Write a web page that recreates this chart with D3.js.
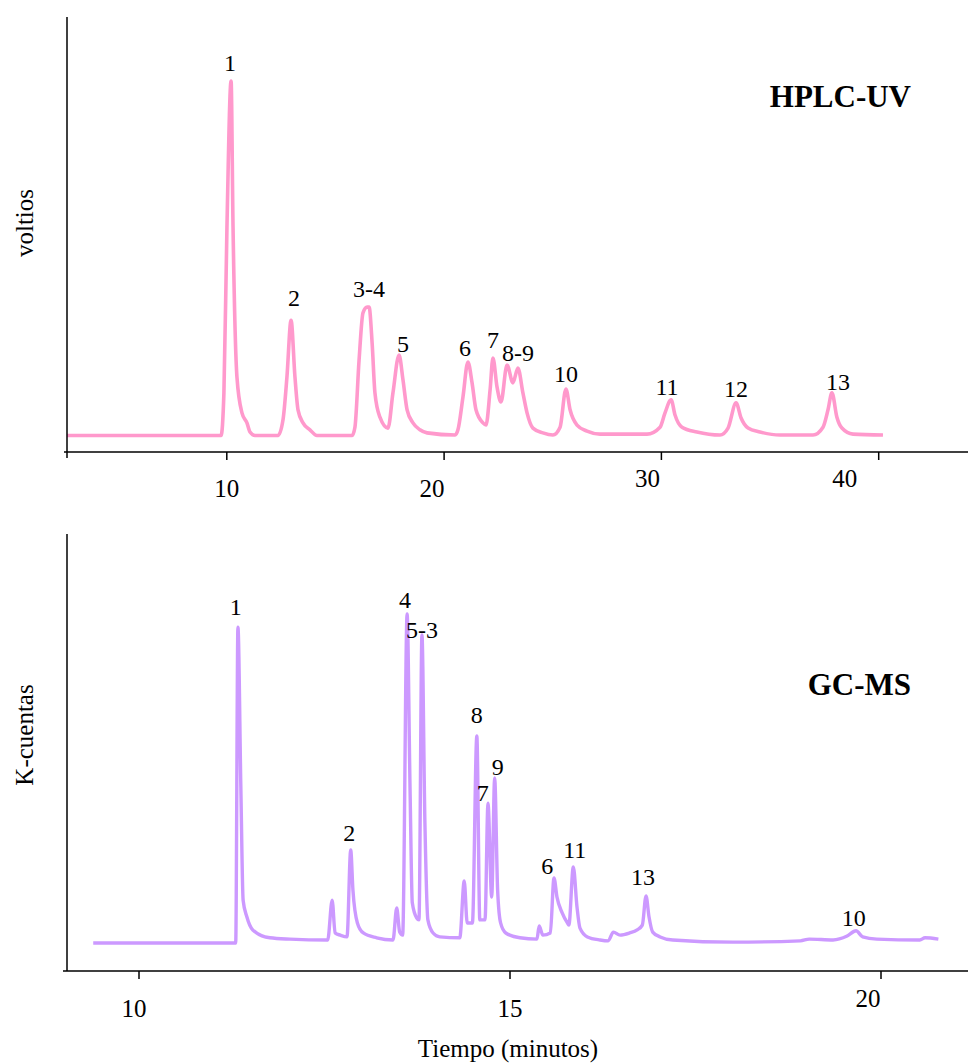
<!DOCTYPE html>
<html>
<head>
<meta charset="utf-8">
<script src="https://cdn.jsdelivr.net/npm/d3@7"></script>
<style>
  body { margin: 0; background: #fff; }
  svg { display: block; }
  text { font-family: "Liberation Serif", "Times New Roman", serif; fill: #000; }
</style>
</head>
<body>
<script>
// ---- 数据：HPLC-UV 色谱 (时间 min, 信号) ----
var hplcTime = [2.67, 9.76, 9.89, 10.03, 10.22, 10.31, 10.49, 10.72, 10.95, 11.09, 11.32,
  12.38, 12.61, 12.79, 12.98, 13.16, 13.30, 13.53, 13.85, 14.17,
  15.79, 15.92, 16.11, 16.29, 16.48, 16.57, 16.71, 16.84, 17.07, 17.44,
  17.67, 17.95, 18.13, 18.32, 18.59, 18.91, 19.24,
  20.53, 20.66, 20.89, 21.12, 21.31, 21.49, 21.81, 21.95,
  22.14, 22.27, 22.46, 22.64, 22.92, 23.19, 23.42, 23.65, 23.84, 24.11, 24.57, 25.03,
  25.36, 25.63, 25.82, 26.14, 26.60, 27.20,
  29.36, 29.96, 30.19, 30.47, 30.65, 30.97, 31.66, 32.72,
  33.09, 33.46, 33.69, 34.01, 34.56, 35.48,
  37.00, 37.46, 37.69, 37.87, 38.10, 38.33, 38.84, 40.22];
var hplcSignal = [0.038, 0.038, 0.136, 0.517, 0.853, 0.517, 0.172, 0.090, 0.067, 0.046, 0.038,
  0.038, 0.074, 0.172, 0.303, 0.172, 0.097, 0.067, 0.051, 0.038,
  0.038, 0.057, 0.211, 0.320, 0.333, 0.333, 0.251, 0.136, 0.080, 0.055,
  0.136, 0.223, 0.166, 0.097, 0.067, 0.051, 0.044,
  0.039, 0.051, 0.126, 0.207, 0.159, 0.097, 0.067, 0.062,
  0.143, 0.216, 0.149, 0.115, 0.200, 0.159, 0.193, 0.136, 0.090, 0.055, 0.044, 0.039,
  0.057, 0.145, 0.097, 0.062, 0.048, 0.041,
  0.041, 0.057, 0.090, 0.120, 0.085, 0.057, 0.046, 0.039,
  0.055, 0.113, 0.078, 0.055, 0.046, 0.039,
  0.039, 0.057, 0.097, 0.136, 0.080, 0.055, 0.041, 0.039];
// 峰标注 (文字, 时间, 信号)
var hplcPeakText = ['1', '2', '3-4', '5', '6', '7', '8-9', '10', '11', '12', '13'];
var hplcPeakTime = [10.17, 13.12, 16.57, 18.13, 20.99, 22.27, 23.42, 25.63, 30.28, 33.46, 38.15];
var hplcPeakSignal = [0.876, 0.336, 0.356, 0.230, 0.221, 0.239, 0.209, 0.161, 0.131, 0.126, 0.143];
var hplcTicks = [10, 20, 30, 40];

// ---- 数据：GC-MS 色谱 (时间 min, K-cuentas) ----
var gcTime = [9.39, 11.31, 11.34, 11.38, 11.41, 11.46, 11.54, 11.77, 12.04,
  12.55, 12.61, 12.65, 12.72, 12.81, 12.86, 12.89, 12.95, 13.03, 13.21, 13.43,
  13.48, 13.52, 13.56, 13.62, 13.66, 13.69, 13.75, 13.78, 13.82, 13.86, 13.90, 13.97, 14.06, 14.33,
  14.39, 14.43, 14.50, 14.56, 14.60, 14.67, 14.71, 14.76, 14.80, 14.84, 14.88, 14.95, 15.14, 15.37,
  15.40, 15.45, 15.55, 15.60, 15.64, 15.71, 15.78, 15.80, 15.86, 15.91, 15.95, 16.05, 16.22, 16.33,
  16.40, 16.49, 16.62, 16.72, 16.79, 16.84, 16.88, 16.93, 17.03, 17.20, 18.01, 18.92,
  19.04, 19.36, 19.55, 19.67, 19.76, 19.95, 20.53, 20.60, 20.78];
var gcCounts = [0.064, 0.064, 0.787, 0.414, 0.162, 0.124, 0.094, 0.076, 0.073,
  0.071, 0.162, 0.087, 0.082, 0.078, 0.277, 0.185, 0.110, 0.087, 0.076, 0.071,
  0.144, 0.089, 0.082, 0.817, 0.414, 0.156, 0.121, 0.117, 0.769, 0.339, 0.117, 0.087, 0.078, 0.076,
  0.206, 0.110, 0.110, 0.538, 0.117, 0.117, 0.384, 0.169, 0.442, 0.185, 0.110, 0.087, 0.076, 0.073,
  0.103, 0.082, 0.087, 0.213, 0.169, 0.133, 0.110, 0.105, 0.238, 0.146, 0.098, 0.078, 0.071, 0.069,
  0.089, 0.082, 0.087, 0.094, 0.105, 0.172, 0.124, 0.089, 0.078, 0.071, 0.066, 0.069,
  0.073, 0.071, 0.080, 0.092, 0.078, 0.073, 0.071, 0.076, 0.073];
var gcPeakText = ['1', '2', '4', '5-3', '8', '7', '9', '6', '11', '13', '10'];
var gcPeakTime = [11.31, 12.84, 13.59, 13.82, 14.56, 14.64, 14.84, 15.51, 15.88, 16.80, 19.64];
var gcPeakCounts = [0.815, 0.297, 0.831, 0.762, 0.568, 0.389, 0.449, 0.222, 0.259, 0.197, 0.103];
var gcTicks = [10, 15, 20];

// ---- 画布 ----
var svgWidth = 968;
var svgHeight = 1063;
var svg = d3.select('body')
  .append('svg')
  .attr('width', svgWidth)
  .attr('height', svgHeight);

// 两个面板的布局
var panels = [
  {
    time: hplcTime, value: hplcSignal,
    peakText: hplcPeakText, peakTime: hplcPeakTime, peakValue: hplcPeakSignal,
    ticks: hplcTicks,
    xDomain: [10, 40], xRange: [226.3, 878.2],
    yTop: 17, yBottom: 452, yAxisEnd: 458, xAxisStart: 64,
    color: '#ff99cc', width: 3.6,
    label: 'HPLC-UV', labelY: 107,
    yTitle: 'voltios', yTitleY: 223,
    // 刻度标签的微调 (原图手工排版)
    tickShift: { 10: [0, 45], 20: [-12, 45], 30: [-14, 35], 40: [-34, 35] }
  },
  {
    time: gcTime, value: gcCounts,
    peakText: gcPeakText, peakTime: gcPeakTime, peakValue: gcPeakCounts,
    ticks: gcTicks,
    xDomain: [10, 20], xRange: [138.5, 880.5],
    yTop: 534, yBottom: 971, yAxisEnd: 971, xAxisStart: 63,
    color: '#cc99ff', width: 3.4,
    label: 'GC-MS', labelY: 695,
    yTitle: 'K-cuentas', yTitleY: 735,
    tickShift: { 10: [-5, 46], 15: [0, 46], 20: [-13, 36] }
  }
];

var axisX = 67;

panels.forEach(function (p) {
  var g = svg.append('g');
  var x = d3.scaleLinear().domain(p.xDomain).range(p.xRange);
  var y = d3.scaleLinear().domain([0, 1]).range([p.yBottom, p.yTop]);

  // 色谱线
  var points = p.time.map(function (t, i) { return [t, p.value[i]]; });
  var line = d3.line()
    .x(function (d) { return x(d[0]); })
    .y(function (d) { return y(d[1]); })
    .curve(d3.curveMonotoneX);
  g.append('path')
    .datum(points)
    .attr('fill', 'none')
    .attr('stroke', p.color)
    .attr('stroke-width', p.width)
    .attr('stroke-linejoin', 'round')
    .attr('d', line);

  // x轴
  var xAxis = g.append('g')
    .attr('transform', 'translate(0,' + p.yBottom + ')')
    .call(d3.axisBottom(x).tickValues(p.ticks).tickSize(8).tickSizeOuter(0).tickFormat(d3.format('d')));
  xAxis.select('.domain').remove();
  xAxis.selectAll('.tick line').attr('stroke', '#000').attr('stroke-width', 1.5);
  xAxis.selectAll('.tick text')
    .attr('font-family', '"Liberation Serif", "Times New Roman", serif')
    .attr('font-size', 25)
    .attr('fill', '#000')
    .attr('dy', null)
    .attr('x', function (d) { return p.tickShift[d][0]; })
    .attr('y', function (d) { return p.tickShift[d][1]; });
  g.append('line')
    .attr('x1', p.xAxisStart).attr('x2', svgWidth)
    .attr('y1', p.yBottom).attr('y2', p.yBottom)
    .attr('stroke', '#000').attr('stroke-width', 1.5);

  // y轴 (无刻度)
  g.append('line')
    .attr('x1', axisX).attr('x2', axisX)
    .attr('y1', p.yTop).attr('y2', p.yAxisEnd)
    .attr('stroke', '#000').attr('stroke-width', 1.5);

  // 峰编号
  g.selectAll('text.peak')
    .data(p.peakText)
    .enter()
    .append('text')
    .attr('class', 'peak')
    .attr('x', function (d, i) { return x(p.peakTime[i]); })
    .attr('y', function (d, i) { return y(p.peakValue[i]); })
    .attr('text-anchor', 'middle')
    .attr('font-size', 24)
    .text(function (d) { return d; });

  // 方法名称
  g.append('text')
    .attr('x', 911)
    .attr('y', p.labelY)
    .attr('text-anchor', 'end')
    .attr('font-size', 31)
    .attr('font-weight', 'bold')
    .text(p.label);

  // y轴标题
  g.append('text')
    .attr('transform', 'translate(33,' + p.yTitleY + ') rotate(-90)')
    .attr('text-anchor', 'middle')
    .attr('font-size', 25)
    .text(p.yTitle);
});

// x轴标题
svg.append('text')
  .attr('x', 508)
  .attr('y', 1057)
  .attr('text-anchor', 'middle')
  .attr('font-size', 25)
  .text('Tiempo (minutos)');
</script>
</body>
</html>
